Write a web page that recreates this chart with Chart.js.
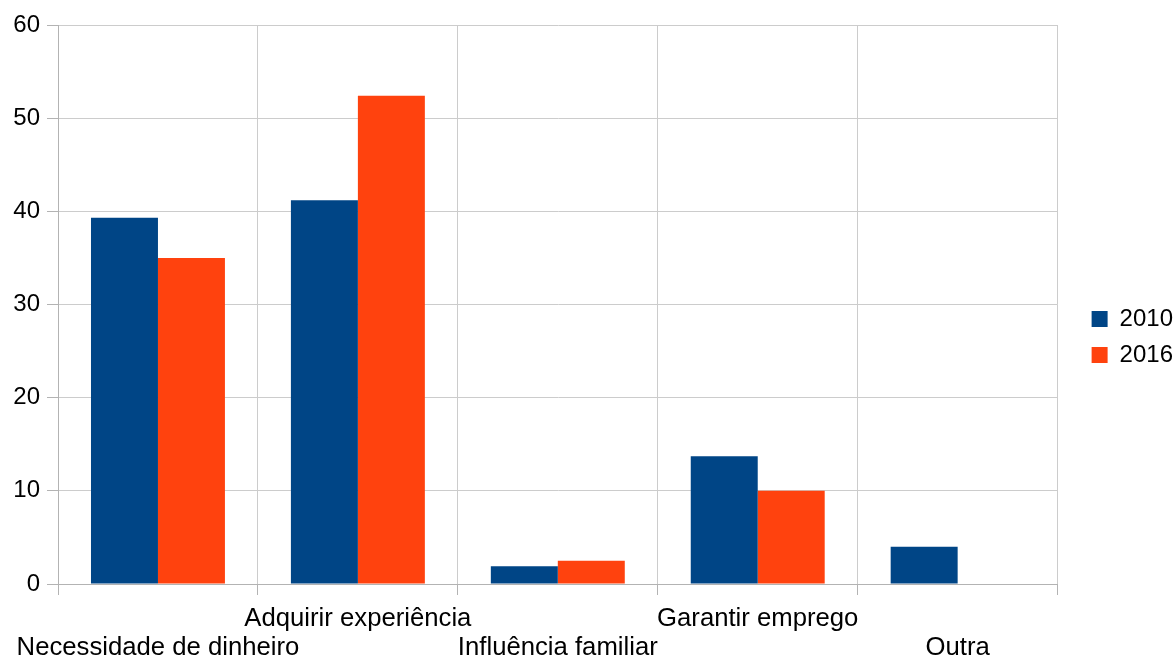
<html>
<head>
<meta charset="utf-8">
<script src="https://cdn.jsdelivr.net/npm/chart.js@4.4.1/dist/chart.umd.min.js"></script>
<style>
 body { margin: 0; background: #fff; }
 #wrap { width: 1173px; height: 659px; }
</style>
</head>
<body>
<div id="wrap"><canvas id="myChart" width="1173" height="659"></canvas></div>
<script>
 // categories (staggered into two rows like the original)
 var categories = ["Necessidade de dinheiro", "Adquirir experiência", "Influência familiar", "Garantir emprego", "Outra"];
 var series2010 = [39.3, 41.2, 1.9, 13.7, 4.0];
 var series2016 = [35.0, 52.4, 2.5, 10.0, 0];
 var yTicks = [0, 10, 20, 30, 40, 50, 60];

 var labels = categories.map(function (c, i) {
 return i % 2 == 0 ? ["", c] : [c, ""];
 });

 // push the legend a bit to the right of the plot and a little up
 var legendShift = {
 id: "legendShift",
 afterLayout: function (chart) {
 var lg = chart.legend;
 var dx = chart.chartArea.right + 22 - lg.left;
 lg.left += dx;
 lg.right += dx;
 lg.top -= 5;
 lg.bottom -= 5;
 }
 };

 Chart.defaults.font.family = "'Liberation Sans', Arial, sans-serif";
 Chart.defaults.color = "#000";

 new Chart("myChart", {
 type: "bar",
 data: {
 labels: labels,
 datasets: [
 {
 label: "2010",
 data: series2010,
 backgroundColor: "#004586",
 borderWidth: 0
 },
 {
 label: "2016",
 data: series2016,
 backgroundColor: "#ff420e",
 borderWidth: 0
 }
 ]
 },
 options: {
 responsive: false,
 animation: false,
 categoryPercentage: 0.67,
 barPercentage: 1.0,
 layout: { padding: { top: 25, right: 12, bottom: 0, left: 0 } },
 plugins: {
 legend: {
 position: "right",
 labels: {
 boxWidth: 16,
 boxHeight: 16,
 padding: 12,
 font: { size: 24 }
 }
 },
 tooltip: { enabled: false }
 },
 scales: {
 x: {
 afterFit: function (axis) { axis.height = 75; },
 grid: { color: "#cccccc", tickColor: "#b3b3b3", tickLength: 11, offset: true },
 border: { color: "#b3b3b3" },
 ticks: {
 autoSkip: false,
 maxRotation: 0,
 padding: 10,
 font: { size: 25.7, lineHeight: 1.12 }
 }
 },
 y: {
 min: 0,
 max: 60,
 afterBuildTicks: function (axis) {
 axis.ticks = yTicks.map(function (v) { return { value: v }; });
 },
 afterFit: function (axis) { axis.width = 58; },
 grid: { color: "#cccccc", tickColor: "#b3b3b3", tickLength: 11 },
 border: { color: "#b3b3b3" },
 ticks: { padding: 7, font: { size: 24 } }
 }
 }
 },
 plugins: [legendShift]
 });
</script>
</body>
</html>
